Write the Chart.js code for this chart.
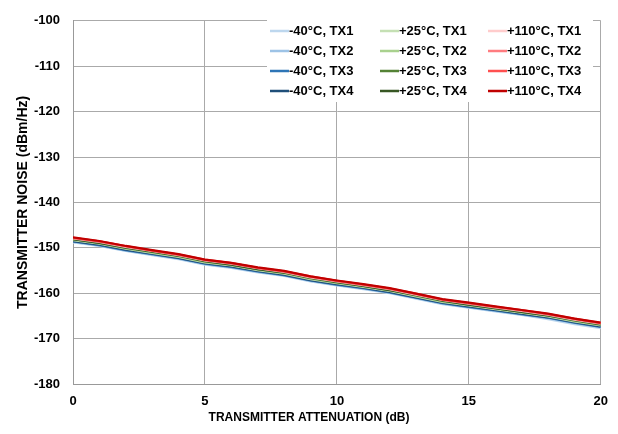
<!DOCTYPE html>
<html>
<head>
<meta charset="utf-8">
<script src="https://cdn.jsdelivr.net/npm/chart.js@4.4.1/dist/chart.umd.min.js"></script>
<style>
  body { margin: 0; background: #fff; }
  #noiseChart { display: block; }
</style>
</head>
<body>
<canvas id="noiseChart" width="618" height="434"></canvas>
<script>
/* ================= DATA ================= */
const atten = [0, 1, 2, 3, 4, 5, 6, 7, 8, 9, 10, 11, 12, 13, 14, 15, 16, 17, 18, 19, 20];

const m40Tx1 = [-148.8,-149.6,-150.7,-151.6,-152.5,-153.7,-154.4,-155.4,-156.2,-157.4,-158.3,-159.1,-160.0,-161.2,-162.4,-163.2,-164.0,-164.8,-165.7,-166.8,-167.7];
const m40Tx2 = [-148.7,-149.5,-150.6,-151.5,-152.4,-153.6,-154.3,-155.3,-156.1,-157.3,-158.2,-159.0,-159.9,-161.1,-162.3,-163.1,-163.9,-164.7,-165.5,-166.6,-167.5];
const m40Tx3 = [-148.6,-149.4,-150.5,-151.4,-152.3,-153.5,-154.2,-155.2,-156.0,-157.2,-158.1,-158.9,-159.8,-161.0,-162.2,-163.0,-163.8,-164.6,-165.4,-166.5,-167.4];
const m40Tx4 = [-148.5,-149.3,-150.4,-151.3,-152.2,-153.4,-154.1,-155.1,-155.9,-157.1,-158.0,-158.8,-159.7,-160.9,-162.1,-162.9,-163.7,-164.5,-165.3,-166.4,-167.3];

const p25Tx1 = [-148.3,-149.1,-150.2,-151.1,-152.0,-153.2,-153.9,-154.9,-155.7,-156.9,-157.8,-158.6,-159.5,-160.7,-161.9,-162.7,-163.5,-164.3,-165.1,-166.2,-167.1];
const p25Tx2 = [-148.2,-149.0,-150.1,-151.0,-151.9,-153.1,-153.8,-154.8,-155.6,-156.8,-157.7,-158.5,-159.4,-160.6,-161.8,-162.6,-163.4,-164.2,-165.0,-166.1,-167.0];
const p25Tx3 = [-148.1,-148.9,-150.0,-150.9,-151.8,-153.0,-153.7,-154.7,-155.5,-156.7,-157.6,-158.4,-159.3,-160.5,-161.7,-162.5,-163.3,-164.1,-164.9,-166.0,-166.9];
const p25Tx4 = [-148.1,-148.9,-149.9,-150.8,-151.7,-152.9,-153.7,-154.7,-155.4,-156.6,-157.5,-158.4,-159.3,-160.4,-161.6,-162.5,-163.3,-164.1,-164.9,-165.9,-166.8];

const p110Tx1 = [-147.9,-148.7,-149.8,-150.7,-151.6,-152.8,-153.5,-154.5,-155.3,-156.5,-157.4,-158.2,-159.1,-160.3,-161.5,-162.3,-163.1,-163.9,-164.7,-165.8,-166.7];
const p110Tx2 = [-147.8,-148.6,-149.7,-150.6,-151.5,-152.7,-153.4,-154.4,-155.2,-156.4,-157.3,-158.1,-159.0,-160.2,-161.4,-162.2,-163.0,-163.8,-164.6,-165.7,-166.6];
const p110Tx3 = [-147.8,-148.6,-149.6,-150.6,-151.5,-152.6,-153.4,-154.4,-155.2,-156.3,-157.3,-158.1,-159.0,-160.1,-161.4,-162.2,-163.0,-163.7,-164.6,-165.6,-166.6];
const p110Tx4 = [-147.7,-148.5,-149.6,-150.5,-151.4,-152.6,-153.3,-154.3,-155.1,-156.3,-157.2,-158.0,-158.9,-160.1,-161.3,-162.1,-162.9,-163.7,-164.5,-165.6,-166.5];

const temps = ["-40°C", "+25°C", "+110°C"];
const txNames = ["TX1", "TX2", "TX3", "TX4"];
const seriesValues = [
  [m40Tx1, m40Tx2, m40Tx3, m40Tx4],
  [p25Tx1, p25Tx2, p25Tx3, p25Tx4],
  [p110Tx1, p110Tx2, p110Tx3, p110Tx4]
];
const seriesColors = [
  ["#bdd7ee", "#9dc3e6", "#2e75b6", "#1f4e79"],
  ["#c5e0b4", "#a9d18e", "#548235", "#375623"],
  ["#ffcccc", "#ff7c80", "#ff5050", "#c00000"]
];

const yTicks = [-180, -170, -160, -150, -140, -130, -120, -110, -100];
const xTicks = [0, 5, 10, 15, 20];
const xTitle = "TRANSMITTER ATTENUATION (dB)";

const FONT = "'Liberation Sans', Arial, sans-serif";

/* ================= DATASETS ================= */
const datasets = [];
temps.forEach((t, ti) => {
  txNames.forEach((tx, xi) => {
    datasets.push({
      label: `${t}, ${tx}`,
      data: atten.map((a, i) => ({ x: a, y: seriesValues[ti][xi][i] })),
      borderColor: seriesColors[ti][xi],
      backgroundColor: seriesColors[ti][xi],
      borderWidth: 2.25,
      pointRadius: 0,
      tension: 0,
      order: (3 - ti) * 10 + (4 - xi),
      tempIndex: ti,
      txIndex: xi
    });
  });
});

/* ================= LEGEND IN PLOT + X TITLE ================= */
const boxLegend = {
  id: "boxLegend",
  afterDraw(chart) {
    const ctx = chart.ctx;
    ctx.save();
    ctx.fillStyle = "#ffffff";
    ctx.fillRect(267, 18, 326, 84);
    const colLine = [270, 380, 488];
    const rowY = [31, 51, 71, 91];
    ctx.font = `bold 13px ${FONT}`;
    ctx.textBaseline = "middle";
    ctx.textAlign = "left";
    chart.data.datasets.forEach(ds => {
      const x = colLine[ds.tempIndex];
      const y = rowY[ds.txIndex];
      ctx.strokeStyle = ds.borderColor;
      ctx.lineWidth = 2.5;
      ctx.beginPath();
      ctx.moveTo(x, y);
      ctx.lineTo(x + 19, y);
      ctx.stroke();
      ctx.fillStyle = "#000";
      ctx.fillText(ds.label, x + 19, y + 0.5);
    });

    // x axis title sits centred on the whole figure, not the plot
    ctx.font = `bold 12px ${FONT}`;
    ctx.textAlign = "center";
    ctx.fillText(xTitle, chart.width / 2, 418);
    ctx.restore();
  }
};

/* ================= CHART ================= */
new Chart(document.getElementById("noiseChart"), {
  type: "line",
  data: { datasets },
  options: {
    responsive: false,
    animation: false,
    layout: { padding: { left: 0, right: 17, top: 10, bottom: 0 } },
    plugins: {
      legend: { display: false },
      tooltip: { enabled: false }
    },
    scales: {
      x: {
        type: "linear",
        min: 0,
        max: 20,
        afterFit: s => { s.height = 50; },
        afterBuildTicks: s => { s.ticks = xTicks.map(v => ({ value: v })); },
        grid: { color: "#aaaaaa", lineWidth: 1, drawTicks: false },
        border: { color: "#999999" },
        ticks: {
          padding: 10,
          color: "#000",
          font: { family: FONT, size: 13, weight: "bold" },
          maxRotation: 0
        }
      },
      y: {
        type: "linear",
        min: -180,
        max: -100,
        afterFit: s => { s.width = 73; },
        afterBuildTicks: s => { s.ticks = yTicks.map(v => ({ value: v })); },
        grid: { color: "#aaaaaa", lineWidth: 1, drawTicks: false },
        border: { color: "#999999" },
        ticks: {
          padding: 13,
          color: "#000",
          font: { family: FONT, size: 13, weight: "bold" }
        },
        title: {
          display: true,
          text: "TRANSMITTER NOISE (dBm/Hz)",
          color: "#000",
          font: { family: FONT, size: 14, weight: "bold" },
          padding: { top: 15, bottom: 0 }
        }
      }
    }
  },
  plugins: [boxLegend]
});
</script>
</body>
</html>
